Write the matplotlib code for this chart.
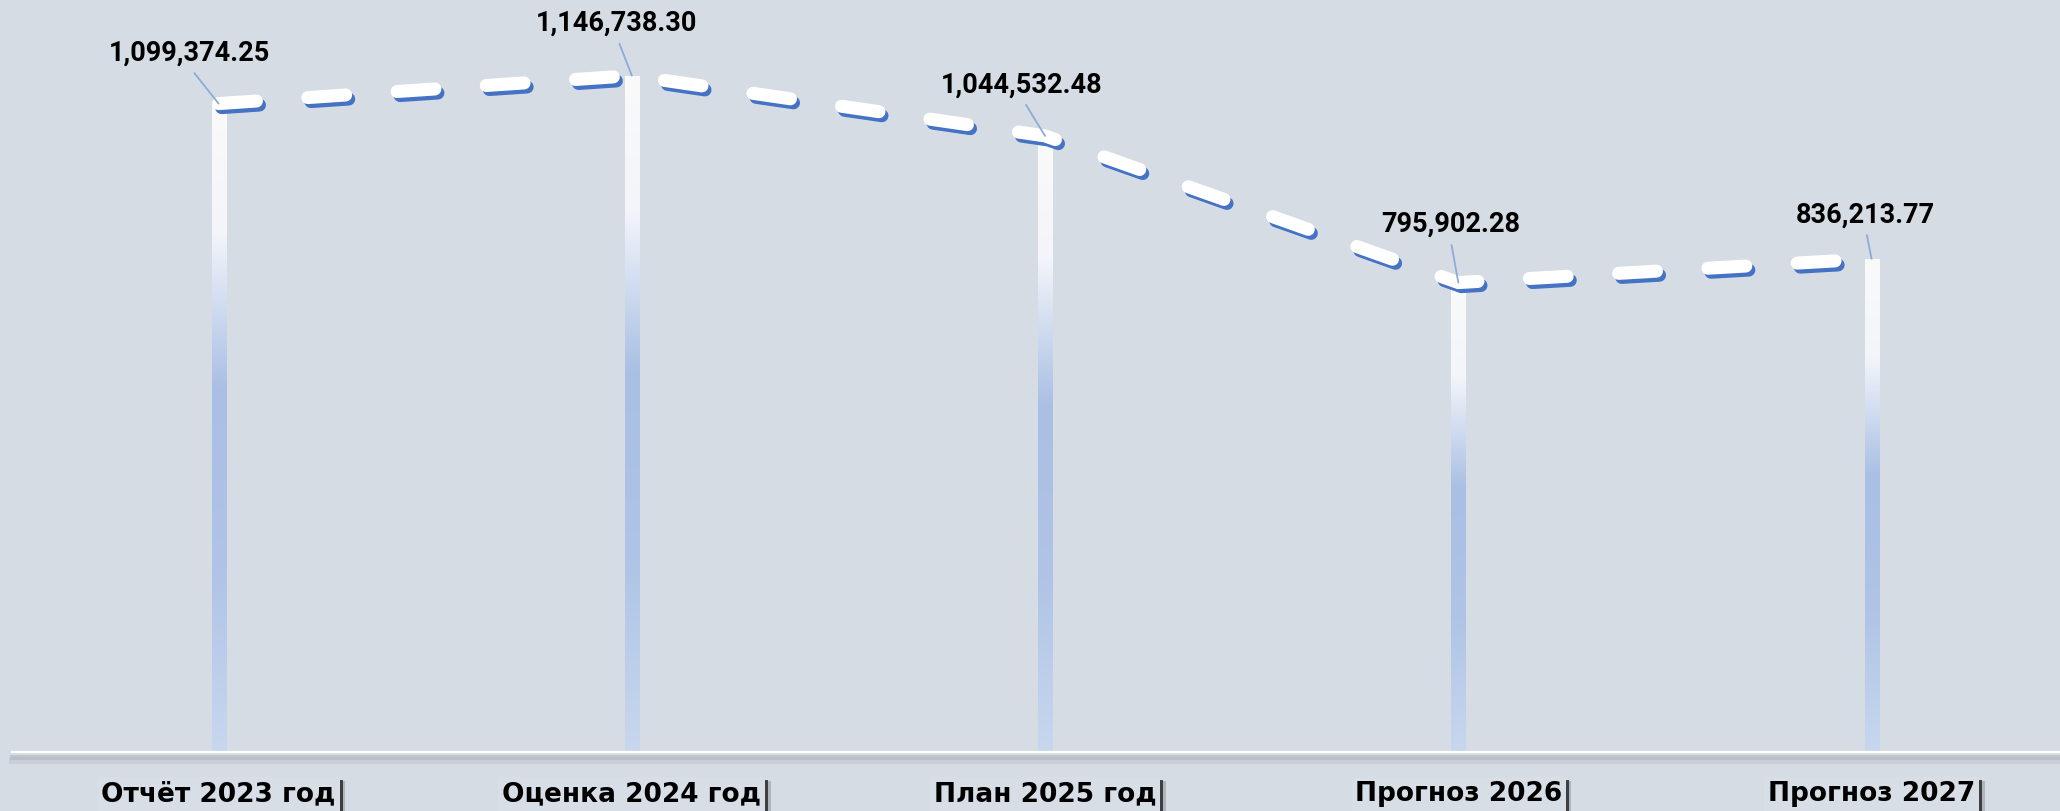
import numpy as np
import matplotlib
matplotlib.use('Agg')
import matplotlib.pyplot as plt
from matplotlib.colors import LinearSegmentedColormap
import matplotlib.patheffects as pe

# ---- data ----
categories = ['Отчёт 2023 год', 'Оценка 2024 год', 'План 2025 год', 'Прогноз 2026', 'Прогноз 2027']
values = [1099374.25, 1146738.30, 1044532.48, 795902.28, 836213.77]
value_labels = ['1,099,374.25', '1,146,738.30', '1,044,532.48', '795,902.28', '836,213.77']

# ---- layout / style ----
label_offsets = [(-29, 50), (-15, 52), (-23, 51), (-8, 58), (-6, 44)]  # pixels
BG = '#d6dce4'
W, H = 2060, 811

fig = plt.figure(figsize=(W / 100, H / 100), dpi=100, facecolor=BG)
ax = fig.add_axes([12 / W, (H - 752) / H, (W - 12) / W, 752 / H])
ax.set_facecolor(BG)
x = np.arange(len(categories))

cmap = LinearSegmentedColormap.from_list(
    'bar', [(0, '#fafafa'), (0.2, '#f3f5fa'), (0.44, '#a9bfe4'),
            (0.72, '#afc4e6'), (1, '#c8d7ee')])
grad = np.linspace(0, 1, 256).reshape(-1, 1)
bars = ax.bar(x, values, width=0.034, color='none', edgecolor='none', zorder=2)
for b in bars:
    x0, w, h = b.get_x(), b.get_width(), b.get_height()
    im = ax.imshow(grad, cmap=cmap, extent=(x0, x0 + w, 0, h), origin='upper',
                   aspect='auto', zorder=2, interpolation='bilinear')
    im.set_clip_path(b)

ax.plot(x, values, color='white', lw=9.4, linestyle=(0, (2.9, 3.95)),
        dash_capstyle='round', solid_capstyle='round', zorder=4,
        path_effects=[pe.SimpleLineShadow(offset=(2.2, -2.9), shadow_color='#4472c4', alpha=1.0),
                      pe.Normal()])

for xi, v, lab, (dx, dy) in zip(x, values, value_labels, label_offsets):
    ax.annotate(lab, xy=(xi, v), xytext=(dx, dy), textcoords='offset pixels',
                ha='center', va='center', fontsize=19.5, fontweight='bold',
                family=['Roboto', 'DejaVu Sans'], color='black', zorder=5,
                arrowprops=dict(arrowstyle='-', color='#8eaadb', lw=1.3,
                                relpos=(0.5, 0), shrinkA=3, shrinkB=0))

for xi, cat in zip(x, categories):
    t = ax.annotate(cat, xy=(xi, 0), xytext=(0, -49), textcoords='offset pixels',
                    ha='center', va='baseline', fontsize=19, fontweight='bold',
                    family=['DejaVu Sans'], color='black', annotation_clip=False,
                    bbox=dict(boxstyle='square,pad=0.15', fc='#d8dee6', ec='none'))
    t.get_bbox_patch().set_path_effects(
        [pe.SimplePatchShadow(offset=(4, -3), shadow_rgbFace='#8a9098', alpha=0.5),
         pe.SimplePatchShadow(offset=(2.2, -2), shadow_rgbFace='#222222', alpha=0.8),
         pe.Normal()])

ax.set_xlim(-0.5, 4.456)
ax.set_ylim(0, 1275000)
for s in ['top', 'left', 'right']:
    ax.spines[s].set_visible(False)
ax.spines['bottom'].set_color('white')
ax.spines['bottom'].set_linewidth(1.6)
ax.spines['bottom'].set_zorder(3)
ax.spines['bottom'].set_path_effects(
    [pe.SimpleLineShadow(offset=(0, -5.5), shadow_color='#b0b7bf', alpha=0.35, linewidth=5),
     pe.SimpleLineShadow(offset=(0, -3.5), shadow_color='#a3abb4', alpha=0.45, linewidth=3.5),
     pe.Normal()])
ax.set_xticks([])
ax.set_yticks([])

fig.savefig('out.png', dpi=100, facecolor=BG)
